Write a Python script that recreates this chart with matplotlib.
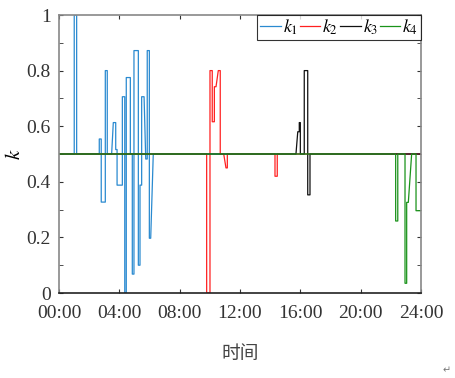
import matplotlib
matplotlib.use("Agg")
import matplotlib.pyplot as plt
from matplotlib.ticker import MultipleLocator

plt.rcParams['font.family'] = ['Liberation Serif', 'DejaVu Serif']
plt.rcParams['mathtext.fontset'] = 'stix'

# time in hours, value k
k1_t = [0, 1.01, 1.01, 1.17, 1.17, 2.67, 2.67, 2.80, 2.80, 3.07, 3.07, 3.20, 3.20, 3.49, 3.60,
        3.76, 3.76, 3.85, 3.85, 4.20, 4.20, 4.36, 4.36, 4.46, 4.46, 4.73, 4.73, 4.86, 4.86,
        4.97, 4.97, 5.26, 5.26, 5.37, 5.37, 5.48, 5.48, 5.64, 5.75, 5.85, 5.85, 5.99, 5.99,
        6.08, 6.25, 24]
k1_v = [0.5, 0.5, 1.0, 1.0, 0.5, 0.5, 0.554, 0.554, 0.327, 0.327, 0.80, 0.80, 0.5, 0.5, 0.613,
        0.613, 0.516, 0.516, 0.388, 0.388, 0.706, 0.706, 0.0, 0.0, 0.775, 0.775, 0.5, 0.5, 0.068,
        0.068, 0.872, 0.872, 0.10, 0.10, 0.388, 0.388, 0.706, 0.706, 0.482, 0.482, 0.872, 0.872, 0.197,
        0.197, 0.5, 0.5]

k2_t = [0, 9.79, 9.79, 10.01, 10.01, 10.16, 10.16, 10.30, 10.30, 10.41, 10.56, 10.69, 10.69,
        10.92, 11.07, 11.16, 11.16, 14.32, 14.32, 14.47, 14.47, 24]
k2_v = [0.5, 0.5, 0.0, 0.0, 0.80, 0.80, 0.616, 0.616, 0.742, 0.742, 0.80, 0.80, 0.5,
        0.5, 0.45, 0.45, 0.5, 0.5, 0.42, 0.42, 0.5, 0.5]

k3_t = [0, 15.71, 15.83, 15.93, 15.93, 16.0, 16.0, 16.26, 16.26, 16.49, 16.49, 16.64, 16.64, 24]
k3_v = [0.5, 0.5, 0.58, 0.58, 0.613, 0.613, 0.5, 0.5, 0.80, 0.80, 0.353, 0.353, 0.5, 0.5]

k4_t = [0, 22.32, 22.32, 22.46, 22.46, 22.94, 22.94, 23.05, 23.05, 23.16, 23.38, 23.67, 23.67, 24]
k4_v = [0.5, 0.5, 0.259, 0.259, 0.5, 0.5, 0.035, 0.035, 0.326, 0.326, 0.5, 0.5, 0.296, 0.296]

series = [
    (k1_t, k1_v, '#2a8ad0', r'$k_1$'),
    (k2_t, k2_v, '#ff2020', r'$k_2$'),
    (k3_t, k3_v, '#111111', r'$k_3$'),
    (k4_t, k4_v, '#1a931a', r'$k_4$'),
]

x_ticks = [0, 4, 8, 12, 16, 20, 24]
x_labels = ['00:00', '04:00', '08:00', '12:00', '16:00', '20:00', '24:00']
y_ticks = [0, 0.2, 0.4, 0.6, 0.8, 1.0]
y_labels = ['0', '0.2', '0.4', '0.6', '0.8', '1']

fig = plt.figure(figsize=(4.55, 3.78), dpi=100)
ax = fig.add_axes([59/455, 1-293/378, (421-59)/455, (293-15)/378])

for t, v, c, lab in series:
    ax.plot(t, v, color=c, lw=0.9, label=lab)

ax.set_xlim(0, 24)
ax.set_ylim(0, 1)
ax.set_xticks(x_ticks)
ax.set_xticklabels(x_labels)
ax.set_yticks(y_ticks)
ax.set_yticklabels(y_labels)
ax.yaxis.set_minor_locator(MultipleLocator(0.1))
ax.tick_params(direction='in', which='both', top=True, right=True, labelsize=14,
               colors='#333333', length=3)
ax.tick_params(axis='x', pad=9)
ax.tick_params(axis='y', pad=6)
for side in ['top', 'right', 'left']:
    ax.spines[side].set_color('#888888')
ax.spines['bottom'].set_color('#222222')
for s in ax.spines.values():
    s.set_linewidth(1.2)

ax.set_ylabel(r'$k$', fontsize=15, labelpad=1)
ax.set_xlabel('时间', fontsize=13.5, family=['Noto Sans CJK SC', 'DejaVu Sans'],
              color='#444444', labelpad=15)

leg = ax.legend(loc='upper right', ncol=4, fontsize=13, frameon=True, fancybox=False,
                borderaxespad=0, handlelength=1.15, handletextpad=0.1, columnspacing=0.1,
                borderpad=0.15, edgecolor='black')
leg.get_frame().set_linewidth(0.8)

fig.text(447/455, 1-370/378, '↵', fontsize=7, color='#777777',
         family=['DejaVu Sans'], ha='center', va='center')

fig.savefig('out.png', dpi=100)
